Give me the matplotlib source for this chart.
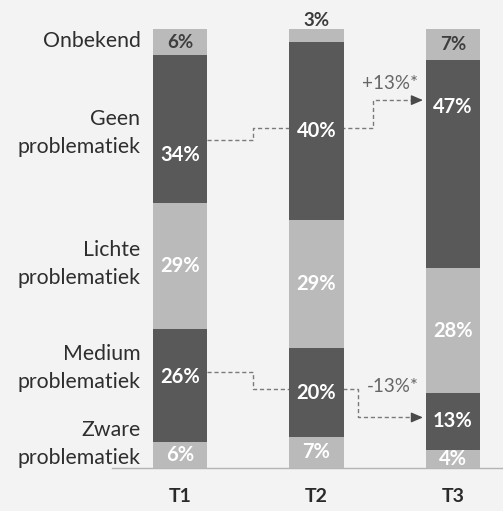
import matplotlib.pyplot as plt
import numpy as np

plt.rcParams['font.family'] = ['Lato', 'DejaVu Sans']

moments = ['T1', 'T2', 'T3']
categories = ['Zware\nproblematiek', 'Medium\nproblematiek', 'Lichte\nproblematiek',
              'Geen\nproblematiek', 'Onbekend']
zware = [6, 7, 4]
medium = [26, 20, 13]
lichte = [29, 29, 28]
geen = [34, 40, 47]
onbekend = [6, 3, 7]
change_geen = '+13%*'
change_medium = '-13%*'

series = np.array([zware, medium, lichte, geen, onbekend], dtype=float)
# bars are drawn as 100% stacked
shares = series / series.sum(axis=0) * 100

dark = '#595959'
light = '#bababa'
colors = [light, dark, light, dark, light]
bg = '#f3f3f3'

fig = plt.figure(figsize=(5.03, 5.11), dpi=100, facecolor=bg)
ax = fig.add_axes([0, 0, 1, 1], facecolor=bg)
ax.set_xlim(-1.319, 2.366)
ax.set_ylim(-9.8, 106.6)
ax.axis('off')

x = np.arange(len(moments))
width = 0.40
bottoms = np.zeros(len(moments))
centers = []
for i in range(len(categories)):
    ax.bar(x, shares[i], width, bottom=bottoms, color=colors[i], zorder=3)
    centers.append(bottoms + shares[i] / 2)
    bottoms = bottoms + shares[i]
centers = np.array(centers)

# baseline
ax.plot([-0.5, 2.366], [0, 0], color='#b5b5b5', lw=1, zorder=2)

# value labels (some are shifted from the segment centre like in the original)
shift = np.zeros_like(centers)
shift[3, 0] = -6
shift[1, 0] = 2
shift[3, 2] = 13
label_y = centers + shift
for i in range(len(categories)):
    for j in range(len(moments)):
        txt = f'{series[i, j]:.0f}%'
        if i == 4:
            if series[i, j] < 5:
                ax.text(x[j], bottoms[j] + 1.9, txt, ha='center', va='center',
                        fontsize=13.5, fontweight='bold', color='#3a3a3a', zorder=4)
            else:
                ax.text(x[j], label_y[i, j], txt, ha='center', va='center',
                        fontsize=13.5, fontweight='bold', color='#3e3e3e', zorder=4)
        else:
            ax.text(x[j], label_y[i, j], txt, ha='center', va='center',
                    fontsize=14.5, fontweight='bold', color='white', zorder=4)

# category labels on the left
cat_shift = [2.5, 4, 0.5, -1, 0.3]
for i, name in enumerate(categories):
    ax.text(-0.29, centers[i, 0] + cat_shift[i], name, ha='right', va='center',
            fontsize=15.3, color='#2e2e2e', linespacing=1.5)

# moment labels
for j, m in enumerate(moments):
    ax.text(x[j], -6.4, m, ha='center', va='center', fontsize=14,
            fontweight='bold', color='#2a2a2a')

# dashed connectors
line_kw = dict(color='#7a7a7a', lw=1, ls=(0, (3, 2)), zorder=2)
arrow_kw = dict(arrowstyle='-|>,head_length=0.7,head_width=0.3', color='#4a4a4a', lw=1)
xs = 0.535
y1 = label_y[3, 0] + 3.5
y2 = label_y[3, 1] + 0.6
y3 = label_y[3, 2] + 1.6
xv = x[1] + 0.41
ax.plot([x[0] + width / 2, xs, xs, xv, xv, x[2] - width / 2 - 0.07],
        [y1, y1, y2, y2, y3, y3], **line_kw)
ax.annotate('', xy=(x[2] - width / 2, y3), xytext=(x[2] - width / 2 - 0.09, y3),
            arrowprops=arrow_kw, zorder=4)
ax.text(x[1] + 0.54, y3 + 3.9, change_geen, ha='center', va='center',
        fontsize=13.5, color='#666666')

z1 = label_y[1, 0] + 1.1
z2 = label_y[1, 1] + 0.9
z3 = label_y[1, 2] + 0.9
xs2 = x[1] + 0.305
ax.plot([x[0] + width / 2, xs, xs, xs2, xs2, x[2] - width / 2 - 0.07],
        [z1, z1, z2, z2, z3, z3], **line_kw)
ax.annotate('', xy=(x[2] - width / 2, z3), xytext=(x[2] - width / 2 - 0.09, z3),
            arrowprops=arrow_kw, zorder=4)
ax.text(x[1] + 0.56, z2 + 0.4, change_medium, ha='center', va='center',
        fontsize=13.5, color='#666666')

fig.savefig('out.png', dpi=100, facecolor=bg)
